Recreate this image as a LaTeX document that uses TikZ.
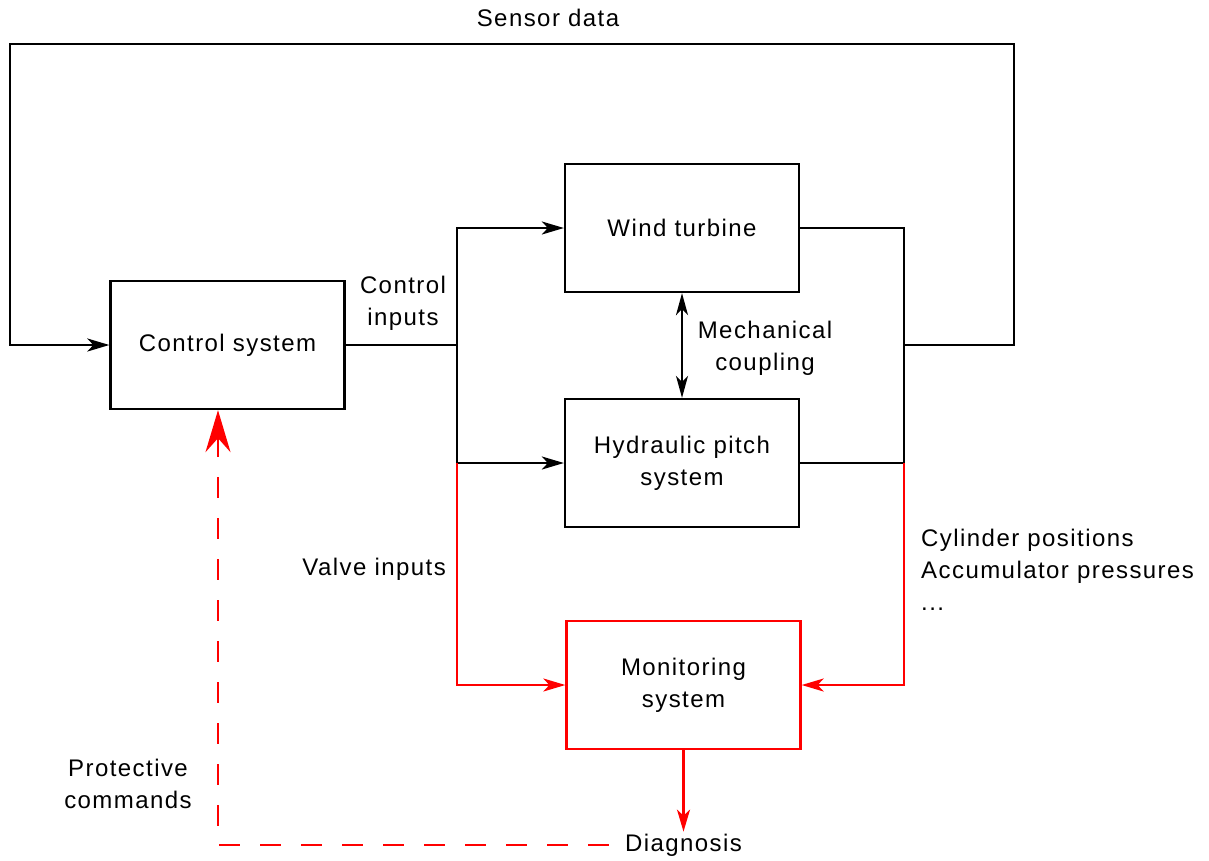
\documentclass[tikz,border=0pt]{standalone}
\usepackage{fontspec}
\setmainfont[LetterSpace=6]{Liberation Sans}
\usetikzlibrary{arrows.meta}
\definecolor{pured}{RGB}{255,0,0}
\begin{document}
\begin{tikzpicture}[x=1pt,y=-1pt,
  every node/.style={font=\fontsize{24}{32}\selectfont},
  blk/.style={draw,line width=2.3pt,minimum width=234pt,minimum height=128pt,align=center,inner sep=0pt},
  lbl/.style={align=center,inner sep=0pt},
  conn/.style={line width=2.3pt},
  tip/.style={-{Stealth[length=22pt,width=13pt,inset=6pt]}},
  dtip/.style={{Stealth[length=22pt,width=12pt,inset=6pt]}-{Stealth[length=22pt,width=12pt,inset=6pt]}},
  bigtip/.style={-{Stealth[length=42pt,width=25pt,inset=14pt]}},
  redl/.style={draw=pured,line width=2.3pt}]
\useasboundingbox (0,0) rectangle (1209,860);

\node[blk] (ctrl) at (227.5,345) {Control system};
\node[blk] (wt) at (682,228) {Wind turbine};
\node[blk] (hy) at (682,463) {Hydraulic pitch\\system};
\node[blk,draw=pured] (mon) at (683.5,685) {Monitoring\\system};
\node[inner sep=2pt] (diag) at (683.5,845) {Diagnosis};

\coordinate (jl) at (457,345);
\coordinate (jr) at (904,345);
\coordinate (tr) at (1014,44);
\coordinate (tl) at (10,44);
\coordinate (pc) at (218,845);

% control inputs
\draw[conn] (ctrl.east) -- (jl);
\draw[conn,tip] (jl) |- (wt.west);
\draw[conn,tip] (jl) |- (hy.west);
\draw[redl,tip] (hy.west -| jl) |- (mon.west);

% outputs
\draw[conn] (wt.east) -| (jr);
\draw[conn] (hy.east) -| (jr);
\draw[redl,tip] (hy.east -| jr) |- (mon.east);

% sensor loop
\draw[conn,tip] (jr) -| (tr) -- (tl) |- (ctrl.west);

% mechanical coupling
\draw[conn,dtip] (wt.south) -- (hy.north);

% diagnosis
\draw[redl,tip] (mon.south) -- (diag.north);
\draw[draw=pured,line width=2.7pt,bigtip,dash pattern=on 21pt off 20pt] ([xshift=-14pt]diag.west) -- (pc) -- (pc |- ctrl.south);

% labels
\node[lbl] (lsens) at (548,18) {Sensor data};
\node[lbl] (lci) at (403,303) {Control\\inputs};
\node[lbl] (lmc) at (765,348) {Mechanical\\coupling};
\node[lbl,anchor=east] (lvi) at (446,569) {Valve inputs};
\node[lbl,anchor=west,align=left] (lcyl) at (921,570) {Cylinder positions\\Accumulator pressures\\...};
\node[lbl] (lpc) at (128,784) {Protective\\commands};
\end{tikzpicture}
\end{document}
